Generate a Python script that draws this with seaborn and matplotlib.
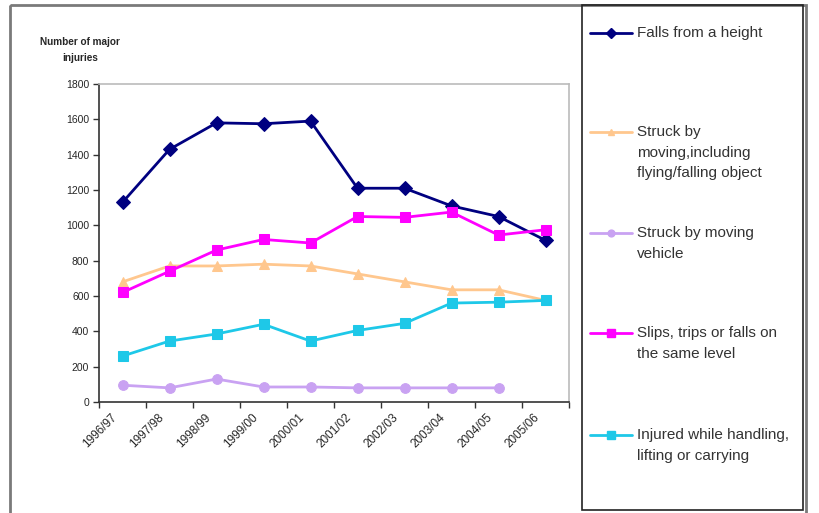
import matplotlib
matplotlib.use("Agg")
import matplotlib.pyplot as plt
import matplotlib.transforms as mtransforms
from matplotlib.patches import Rectangle
from matplotlib.lines import Line2D
import seaborn as sns
import numpy as np

sns.set_style("white")
plt.rcParams['font.family'] = ['Liberation Sans', 'DejaVu Sans']

years = ["1996/97", "1997/98", "1998/99", "1999/00", "2000/01",
         "2001/02", "2002/03", "2003/04", "2004/05", "2005/06"]
falls_height = [1130, 1430, 1580, 1575, 1590, 1210, 1210, 1110, 1050, 915]
struck_object = [680, 770, 770, 780, 770, 725, 680, 635, 635, 575]
struck_vehicle = [95, 80, 130, 85, 85, 80, 80, 80, 80]
slips_trips = [620, 740, 860, 920, 900, 1050, 1045, 1075, 945, 975]
handling = [260, 345, 385, 440, 345, 405, 445, 560, 565, 575]
y_ticks = [0, 200, 400, 600, 800, 1000, 1200, 1400, 1600, 1800]

series = [
    ("Falls from a height", falls_height, "#000080", "D", 7),
    ("Struck by\nmoving,including\nflying/falling object", struck_object, "#FFC78E", "^", 7),
    ("Struck by moving\nvehicle", struck_vehicle, "#C9A2F2", "o", 7),
    ("Slips, trips or falls on\nthe same level", slips_trips, "#FF00FF", "s", 7.5),
    ("Injured while handling,\nlifting or carrying", handling, "#1EC8E8", "s", 7.5),
]

W, H = 819, 513
fig = plt.figure(figsize=(W / 100, H / 100), dpi=100)

# overlay axes in pixel coords for frames / legend
ov = fig.add_axes([0, 0, 1, 1])
ov.set_xlim(0, W)
ov.set_ylim(H, 0)
ov.axis("off")
ov.patch.set_alpha(0)
ov.add_patch(Rectangle((10, 5), 796, 520, fill=False, edgecolor="#7a7a7a", lw=2))
ov.add_patch(Rectangle((582, 5), 221, 505, fill=False, edgecolor="#222222", lw=1.2))

legend_y = [33, 132, 233, 333, 435]
for (label, vals, col, mk, ms), ly in zip(series, legend_y):
    ov.add_line(Line2D([590, 632], [ly, ly], color=col, lw=2))
    ov.add_line(Line2D([611], [ly], color=col, marker=mk, markersize=ms * 0.7,
                       markeredgecolor=col, markerfacecolor=col))
    ov.text(637, ly - 7, label, fontsize=11, color="#333333", va="top", ha="left",
            linespacing=1.6)

ov.text(80, 42, "Number of major", fontsize=7.2, fontweight="bold", ha="center", va="center")
ov.text(80, 58, "injuries", fontsize=7.2, fontweight="bold", ha="center", va="center")

ax = fig.add_axes([99 / W, (H - 402) / H, 470 / W, 318 / H])
ax.patch.set_alpha(0)
x = np.arange(len(years))
for label, vals, col, mk, ms in series:
    sns.lineplot(x=x[:len(vals)], y=vals, ax=ax, color=col, marker=mk,
                 markersize=ms, markeredgecolor=col, markerfacecolor=col,
                 linewidth=2, legend=False)

ax.set_xlim(-0.5, len(years) - 0.5)
ax.set_ylim(0, 1800)
ax.set_yticks(y_ticks)
ax.set_yticklabels([str(v) for v in y_ticks], fontsize=7.5)
ax.set_xticks(x)
ax.set_xticklabels(years, fontsize=8.5, rotation=45, ha="right", rotation_mode="anchor")
ax.set_xticks(np.arange(-0.5, len(years)), minor=True)
ax.tick_params(axis="x", which="major", length=0, pad=7)
ax.tick_params(axis="x", which="minor", length=4, width=1, color="#333333", direction="out", bottom=True)
ax.tick_params(axis="y", length=4, width=1, color="#333333", direction="out", left=True, pad=3)
offset = mtransforms.ScaledTranslation(-12 / 100, 0, fig.dpi_scale_trans)
for lab in ax.get_xticklabels():
    lab.set_transform(lab.get_transform() + offset)
for s in ["left", "bottom"]:
    ax.spines[s].set_color("#333333")
    ax.spines[s].set_linewidth(1.2)
for s in ["top", "right"]:
    ax.spines[s].set_color("#bbbbbb")
    ax.spines[s].set_linewidth(1.2)
ax.set_xlabel("")
ax.set_ylabel("")

fig.savefig("out.png", dpi=100)
